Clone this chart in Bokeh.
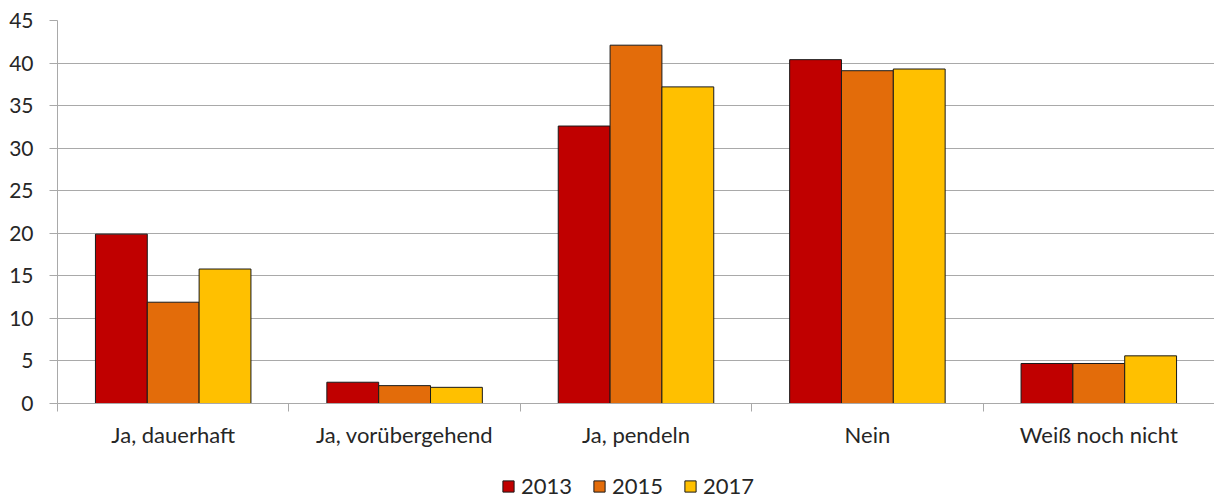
from bokeh.plotting import figure
from bokeh.layouts import column
from bokeh.models import (ColumnDataSource, Range1d, FixedTicker, Legend, LegendItem,
                          SingleIntervalTicker)
from bokeh.transform import dodge
from bokeh.embed import file_html
from bokeh.resources import INLINE

categories = ["Ja, dauerhaft", "Ja, vorübergehend", "Ja, pendeln", "Nein", "Weiß noch nicht"]
years = ["2013", "2015", "2017"]
values_2013 = [19.9, 2.5, 32.6, 40.4, 4.7]
values_2015 = [11.9, 2.1, 42.1, 39.1, 4.7]
values_2017 = [15.8, 1.9, 37.2, 39.3, 5.6]
colors = ["#C00000", "#E36C0A", "#FFC000"]
fields = ["v2013", "v2015", "v2017"]

FONT = "Lato"
TXT = "#262626"
GRID = "#a9a9a9"

centers = [i + 0.5 for i in range(len(categories))]
src = ColumnDataSource(dict(x=centers, v2013=values_2013, v2015=values_2015, v2017=values_2017))

W = 1214
p = figure(width=W, height=455, output_backend="svg", toolbar_location=None,
           x_range=Range1d(0, len(categories)), y_range=Range1d(0, 45),
           min_border_top=20, min_border_left=57, min_border_right=0, min_border_bottom=52)
p.outline_line_color = None
p.background_fill_color = "white"
p.border_fill_color = "white"

bw = 0.224
for k, (col, fld) in enumerate(zip(colors, fields)):
    p.vbar(x=dodge("x", (k - 1) * bw, range=p.x_range), top=fld, width=bw, bottom=0,
           source=src, fill_color=col, line_color="#1a1a1a", line_width=1)

# x axis
xa = p.xaxis[0]
xa.ticker = FixedTicker(ticks=centers, minor_ticks=list(range(len(categories) + 1)))
xa.major_label_overrides = {c: lab for c, lab in zip(centers, categories)}
xa.major_tick_line_color = None
xa.major_tick_out = 0
xa.major_tick_in = 0
xa.minor_tick_line_color = GRID
xa.minor_tick_out = 8
xa.minor_tick_in = 0
xa.axis_line_color = GRID
xa.major_label_text_font = FONT
xa.major_label_text_font_size = "22px"
xa.major_label_text_color = TXT
xa.major_label_standoff = 9

# y axis
ya = p.yaxis[0]
ya.ticker = SingleIntervalTicker(interval=5, num_minor_ticks=0)
ya.major_tick_out = 8
ya.major_tick_in = 0
ya.minor_tick_line_color = None
ya.major_tick_line_color = GRID
ya.axis_line_color = GRID
ya.major_label_text_font = FONT
ya.major_label_text_font_size = "21px"
ya.major_label_text_color = TXT
ya.major_label_standoff = 16

p.xgrid.grid_line_color = None
p.ygrid.grid_line_color = GRID
p.ygrid.grid_line_width = 1
p.ygrid.ticker = ya.ticker

# legend strip (separate small figure; its bars lie outside its view)
lf = figure(width=W, height=44, output_backend="svg", toolbar_location=None,
            x_range=Range1d(0, len(categories)), y_range=Range1d(1000, 1001),
            x_axis_location=None, y_axis_location=None,
            min_border_top=0, min_border_left=0, min_border_right=0, min_border_bottom=0)
lf.outline_line_color = None
lf.xgrid.grid_line_color = None
lf.ygrid.grid_line_color = None
items = []
for k, (yr, col, fld) in enumerate(zip(years, colors, fields)):
    r = lf.vbar(x="x", top=fld, width=bw, bottom=0, source=src,
                fill_color=col, line_color="#1a1a1a", line_width=1)
    items.append(LegendItem(label=yr, renderers=[r]))

legend = Legend(items=items, orientation="horizontal", location=(444, 0),
                border_line_color=None, background_fill_alpha=0,
                glyph_width=14, glyph_height=14, label_standoff=6, spacing=20,
                label_text_font=FONT, label_text_font_size="22px", label_text_color=TXT,
                padding=0, margin=0)
lf.add_layout(legend, "center")

layout = column(p, lf, spacing=0)
open("out.html", "w").write(file_html(layout, INLINE))
